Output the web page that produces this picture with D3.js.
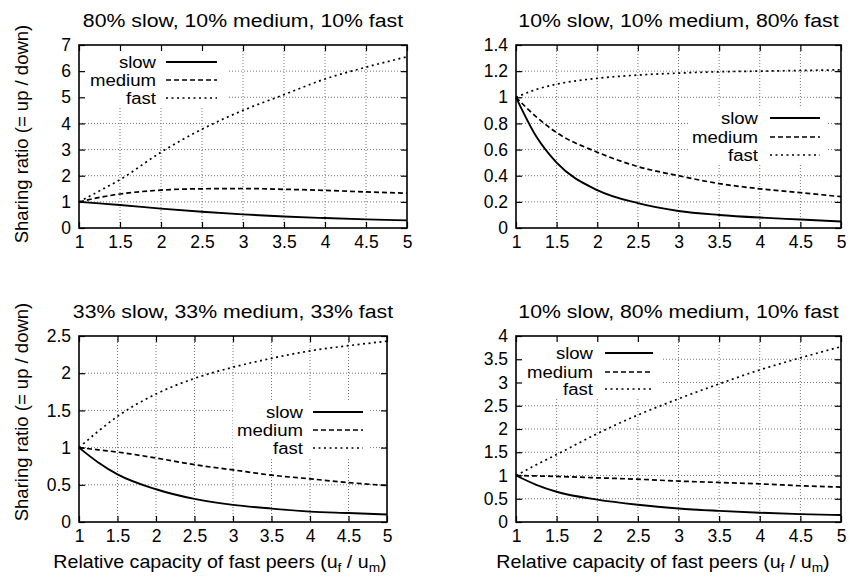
<!DOCTYPE html>
<html>
<head>
<meta charset="utf-8">
<script src="https://cdn.jsdelivr.net/npm/d3@7"></script>
<style>
  body { margin: 0; background: #fff; }
  svg { display: block; font-family: "Liberation Sans", Arial, sans-serif; }
</style>
</head>
<body>
<div id="chart"></div>
<script>
// x values shared by every panel
const xs = [1, 1.25, 1.5, 2, 2.5, 3, 3.5, 4, 4.5, 5];
const xTicks = [1, 1.5, 2, 2.5, 3, 3.5, 4, 4.5, 5];
const seriesNames = ['slow', 'medium', 'fast'];

const titles = [
  '80% slow, 10% medium, 10% fast',
  '10% slow, 10% medium, 80% fast',
  '33% slow, 33% medium, 33% fast',
  '10% slow, 80% medium, 10% fast'
];

// 80/10/10
const p1Slow   = [1, 0.94, 0.88, 0.74, 0.62, 0.52, 0.44, 0.38, 0.33, 0.29];
const p1Medium = [1, 1.17, 1.30, 1.45, 1.50, 1.51, 1.48, 1.44, 1.38, 1.33];
const p1Fast   = [1, 1.42, 1.85, 2.90, 3.78, 4.50, 5.10, 5.70, 6.15, 6.55];
// 10/10/80
const p2Slow   = [1, 0.70, 0.50, 0.29, 0.19, 0.13, 0.10, 0.08, 0.065, 0.05];
const p2Medium = [1, 0.85, 0.73, 0.58, 0.47, 0.40, 0.34, 0.30, 0.27, 0.24];
const p2Fast   = [1, 1.06, 1.10, 1.145, 1.17, 1.185, 1.195, 1.20, 1.205, 1.21];
// 33/33/33
const p3Slow   = [1, 0.80, 0.64, 0.44, 0.31, 0.23, 0.18, 0.14, 0.12, 0.10];
const p3Medium = [1, 0.97, 0.94, 0.86, 0.77, 0.70, 0.63, 0.58, 0.53, 0.49];
const p3Fast   = [1, 1.22, 1.42, 1.72, 1.93, 2.08, 2.20, 2.30, 2.37, 2.43];
// 10/80/10
const p4Slow   = [1, 0.80, 0.65, 0.48, 0.37, 0.29, 0.24, 0.20, 0.17, 0.15];
const p4Medium = [1, 0.99, 0.98, 0.95, 0.92, 0.88, 0.85, 0.82, 0.78, 0.75];
const p4Fast   = [1, 1.23, 1.45, 1.90, 2.30, 2.65, 2.97, 3.27, 3.53, 3.77];

const yTicks = [
  [0, 1, 2, 3, 4, 5, 6, 7],
  [0, 0.2, 0.4, 0.6, 0.8, 1, 1.2, 1.4],
  [0, 0.5, 1, 1.5, 2, 2.5],
  [0, 0.5, 1, 1.5, 2, 2.5, 3, 3.5, 4]
];

const panelSeries = [
  [p1Slow, p1Medium, p1Fast],
  [p2Slow, p2Medium, p2Fast],
  [p3Slow, p3Medium, p3Fast],
  [p4Slow, p4Medium, p4Fast]
];

// layout: plot box + legend placement
const layout = [
  { x0: 79,  x1: 407, y0: 45,  y1: 228, key: { box: [79, 45, 148, 62],   textX: 156, lineX: [166, 217], rows: [62, 80, 98] } },
  { x0: 516, x1: 841, y0: 45,  y1: 228, key: { box: [690, 108, 138, 57], textX: 758, lineX: [770, 820], rows: [118, 137, 155] } },
  { x0: 79,  x1: 387, y0: 336, y1: 522, key: { box: [233, 402, 137, 56], textX: 303, lineX: [313, 363], rows: [412, 430, 448] } },
  { x0: 516, x1: 841, y0: 336, y1: 522, key: { box: [516, 336, 147, 61], textX: 593, lineX: [605, 653], rows: [353, 372, 389] } }
];

const dashes = [null, '5,3', '2,3.5'];
const W = 861, H = 579;
const fmt = d => String(+d.toFixed(2));

const svg = d3.select('#chart').append('svg')
  .attr('width', W).attr('height', H)
  .attr('viewBox', `0 0 ${W} ${H}`);

// the original lettering is a little wider than Arial
function wideText(sel, x, y, size, sx) {
  return sel.append('text')
    .attr('transform', `translate(${x},${y}) scale(${sx},1)`)
    .attr('font-size', size);
}

layout.forEach((L, i) => {
  const yt = yTicks[i];
  const x = d3.scaleLinear().domain([1, 5]).range([L.x0, L.x1]);
  const y = d3.scaleLinear().domain([0, yt[yt.length - 1]]).range([L.y1, L.y0]);
  const g = svg.append('g');

  // grid
  const grid = g.append('g').attr('stroke', '#666').attr('stroke-width', 0.9).attr('stroke-dasharray', '1,2');
  grid.selectAll('.gx').data(xTicks.slice(1, -1)).join('line')
    .attr('x1', d => x(d)).attr('x2', d => x(d))
    .attr('y1', L.y0).attr('y2', L.y1);
  grid.selectAll('.gy').data(yt.slice(1, -1)).join('line')
    .attr('x1', L.x0).attr('x2', L.x1)
    .attr('y1', d => y(d)).attr('y2', d => y(d));

  // legend background hides the grid
  const k = L.key;
  g.append('rect').attr('x', k.box[0]).attr('y', k.box[1])
    .attr('width', k.box[2]).attr('height', k.box[3]).attr('fill', '#fff');

  // axes with inward ticks on all four sides
  const tickLen = 6;
  g.append('g').attr('transform', `translate(0,${L.y1})`)
    .call(d3.axisBottom(x).tickValues(xTicks).tickSize(-tickLen).tickPadding(8).tickFormat(fmt));
  g.append('g').attr('transform', `translate(0,${L.y0})`)
    .call(d3.axisTop(x).tickValues(xTicks).tickSize(-tickLen).tickFormat(''));
  g.append('g').attr('transform', `translate(${L.x0},0)`)
    .call(d3.axisLeft(y).tickValues(yt).tickSize(-tickLen).tickPadding(8).tickFormat(fmt));
  g.append('g').attr('transform', `translate(${L.x1},0)`)
    .call(d3.axisRight(y).tickValues(yt).tickSize(-tickLen).tickFormat(''));
  g.selectAll('.domain').remove();
  g.selectAll('.tick line').attr('stroke', '#000').attr('stroke-width', 1.2);
  g.selectAll('.tick text').attr('font-size', 17.5).attr('fill', '#000')
    .attr('font-family', '"Liberation Sans", Arial, sans-serif');

  g.append('rect').attr('x', L.x0).attr('y', L.y0)
    .attr('width', L.x1 - L.x0).attr('height', L.y1 - L.y0)
    .attr('fill', 'none').attr('stroke', '#000').attr('stroke-width', 1.6);

  // curves
  const line = d3.line().x((d, j) => x(xs[j])).y(d => y(d)).curve(d3.curveMonotoneX);
  panelSeries[i].forEach((vals, s) => {
    g.append('path').datum(vals)
      .attr('d', line)
      .attr('fill', 'none').attr('stroke', '#000')
      .attr('stroke-width', s === 0 ? 1.9 : 1.7)
      .attr('stroke-dasharray', dashes[s]);
  });

  // legend
  seriesNames.forEach((name, s) => {
    wideText(g, k.textX, k.rows[s], 16, 1.16).attr('dy', '0.35em')
      .attr('text-anchor', 'end').text(name);
    g.append('line').attr('x1', k.lineX[0]).attr('x2', k.lineX[1])
      .attr('y1', k.rows[s]).attr('y2', k.rows[s])
      .attr('stroke', '#000').attr('stroke-width', s === 0 ? 1.9 : 1.7)
      .attr('stroke-dasharray', dashes[s]);
  });

  // title
  wideText(g, (L.x0 + L.x1) / 2, L.y0 - 18, 19, 1.12)
    .attr('text-anchor', 'middle').text(titles[i]);
});

// y labels (left column)
[134, 412].forEach(cy => {
  svg.append('text').attr('transform', `translate(28,${cy}) rotate(-90)`)
    .attr('text-anchor', 'middle').attr('font-size', 18.5)
    .text('Sharing ratio (= up / down)');
});

// x labels (bottom row)
[220, 663].forEach(cx => {
  const t = wideText(svg, cx, 568, 18.5, 1.06).attr('text-anchor', 'middle');
  t.append('tspan').text('Relative capacity of fast peers (u');
  t.append('tspan').attr('font-size', 13).attr('dy', 4).text('f');
  t.append('tspan').attr('dy', -4).text(' / u');
  t.append('tspan').attr('font-size', 13).attr('dy', 4).text('m');
  t.append('tspan').attr('dy', -4).text(')');
});
</script>
</body>
</html>
